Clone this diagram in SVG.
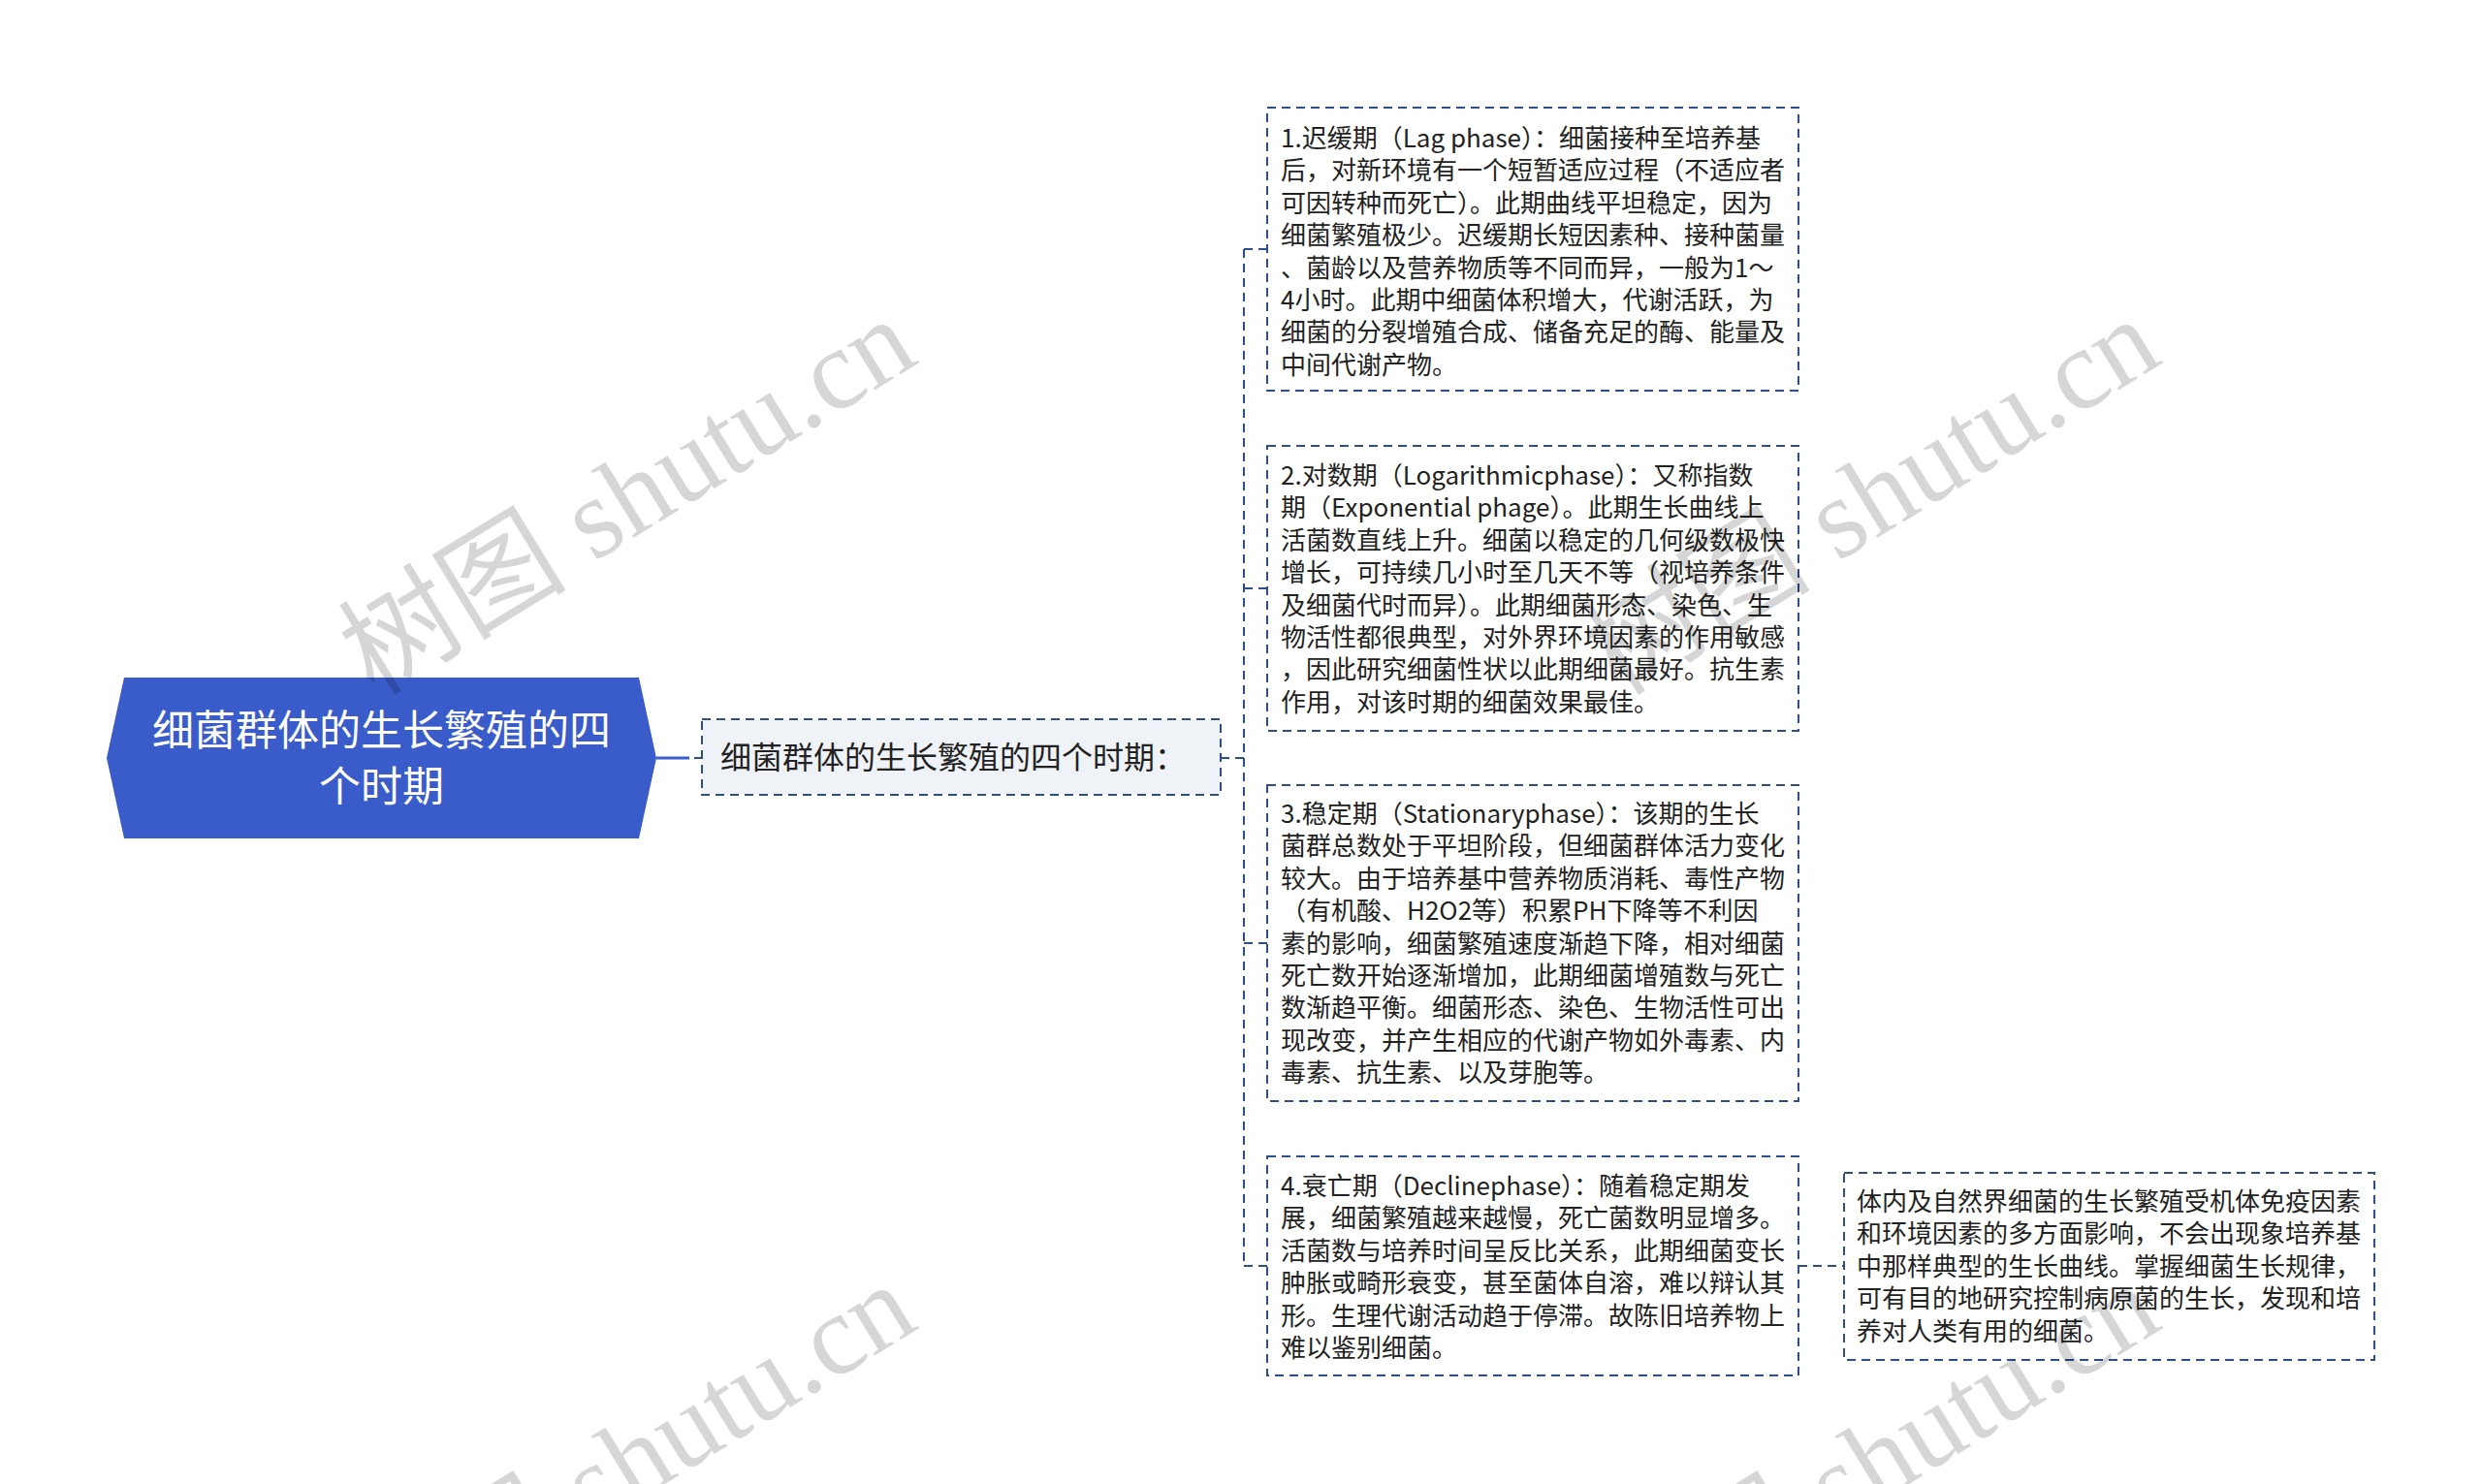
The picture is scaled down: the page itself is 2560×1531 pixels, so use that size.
<svg xmlns="http://www.w3.org/2000/svg" width="2560" height="1531" viewBox="0 0 2560 1531">
<defs>
<style>
.bg{fill:#ffffff}
.box{fill:none;stroke:#2f4c8c;stroke-width:2;stroke-dasharray:9 6}
.mid{fill:#eff2f7;stroke:#2f4c8c;stroke-width:2;stroke-dasharray:9 6}
.conn{fill:none;stroke:#2f4c8c;stroke-width:2;stroke-dasharray:9 6}
.t{font-family:"Noto Sans CJK SC","Noto Sans",sans-serif;font-size:26px;fill:#222222}
.tm{font-family:"Noto Sans CJK SC","Noto Sans",sans-serif;font-size:32px;fill:#222222}
.tr{font-family:"Noto Sans CJK SC","Noto Sans",sans-serif;font-size:43px;fill:#ffffff;text-anchor:middle}
.wm{font-family:"Liberation Serif","Noto Sans CJK SC",serif;font-size:118px;fill:#000000;fill-opacity:0.16}
</style>
</defs>
<rect class="bg" x="0" y="0" width="2560" height="1531"/>

<g id="connectors">
<path d="M677 782 H711" stroke="#3a5ccb" stroke-width="3" fill="none"/>
<path d="M716 782 H724" stroke="#2f4c8c" stroke-width="2" fill="none"/>
<path class="conn" d="M1259 782 H1283"/>
<path class="conn" d="M1283 257 V1306"/>
<path class="conn" d="M1283 257 H1307"/>
<path class="conn" d="M1283 607 H1307"/>
<path class="conn" d="M1283 973 H1307"/>
<path class="conn" d="M1283 1306 H1307"/>
<path class="conn" d="M1855 1306 H1902"/>
</g>

<g id="root">
<polygon points="128,699 659,699 677,782 659,865 128,865 110,782" fill="#3a5ccb"/>
<text class="tr" x="393.5" y="769">细菌群体的生长繁殖的四</text>
<text class="tr" x="393.5" y="827">个时期</text>
</g>

<g id="mid">
<rect class="mid" x="724" y="742" width="535" height="78"/>
<text class="tm" x="743" y="793">细菌群体的生长繁殖的四个时期：</text>
</g>

<g id="n1">
<rect class="box" x="1307" y="111" width="548" height="292"/>
<text class="t">
<tspan x="1321" y="152">1.迟缓期（Lag phase）：细菌接种至培养基</tspan>
<tspan x="1321" y="185.4">后，对新环境有一个短暂适应过程（不适应者</tspan>
<tspan x="1321" y="218.8">可因转种而死亡）。此期曲线平坦稳定，因为</tspan>
<tspan x="1321" y="252.1">细菌繁殖极少。迟缓期长短因素种、接种菌量</tspan>
<tspan x="1321" y="285.5">、菌龄以及营养物质等不同而异，一般为1～</tspan>
<tspan x="1321" y="318.9">4小时。此期中细菌体积增大，代谢活跃，为</tspan>
<tspan x="1321" y="352.3">细菌的分裂增殖合成、储备充足的酶、能量及</tspan>
<tspan x="1321" y="385.6">中间代谢产物。</tspan>
</text>
</g>

<g id="n2">
<rect class="box" x="1307" y="460" width="548" height="294"/>
<text class="t">
<tspan x="1321" y="500">2.对数期（Logarithmicphase）：又称指数</tspan>
<tspan x="1321" y="533.4">期（Exponential phage）。此期生长曲线上</tspan>
<tspan x="1321" y="566.8">活菌数直线上升。细菌以稳定的几何级数极快</tspan>
<tspan x="1321" y="600.1">增长，可持续几小时至几天不等（视培养条件</tspan>
<tspan x="1321" y="633.5">及细菌代时而异）。此期细菌形态、染色、生</tspan>
<tspan x="1321" y="666.9">物活性都很典型，对外界环境因素的作用敏感</tspan>
<tspan x="1321" y="700.3">，因此研究细菌性状以此期细菌最好。抗生素</tspan>
<tspan x="1321" y="733.6">作用，对该时期的细菌效果最佳。</tspan>
</text>
</g>

<g id="n3">
<rect class="box" x="1307" y="810" width="548" height="326"/>
<text class="t">
<tspan x="1321" y="849">3.稳定期（Stationaryphase）：该期的生长</tspan>
<tspan x="1321" y="882.4">菌群总数处于平坦阶段，但细菌群体活力变化</tspan>
<tspan x="1321" y="915.8">较大。由于培养基中营养物质消耗、毒性产物</tspan>
<tspan x="1321" y="949.1">（有机酸、H2O2等）积累PH下降等不利因</tspan>
<tspan x="1321" y="982.5">素的影响，细菌繁殖速度渐趋下降，相对细菌</tspan>
<tspan x="1321" y="1015.9">死亡数开始逐渐增加，此期细菌增殖数与死亡</tspan>
<tspan x="1321" y="1049.3">数渐趋平衡。细菌形态、染色、生物活性可出</tspan>
<tspan x="1321" y="1082.6">现改变，并产生相应的代谢产物如外毒素、内</tspan>
<tspan x="1321" y="1116">毒素、抗生素、以及芽胞等。</tspan>
</text>
</g>

<g id="n4">
<rect class="box" x="1307" y="1193" width="548" height="226"/>
<text class="t">
<tspan x="1321" y="1233">4.衰亡期（Declinephase）：随着稳定期发</tspan>
<tspan x="1321" y="1266.4">展，细菌繁殖越来越慢，死亡菌数明显增多。</tspan>
<tspan x="1321" y="1299.8">活菌数与培养时间呈反比关系，此期细菌变长</tspan>
<tspan x="1321" y="1333.1">肿胀或畸形衰变，甚至菌体自溶，难以辩认其</tspan>
<tspan x="1321" y="1366.5">形。生理代谢活动趋于停滞。故陈旧培养物上</tspan>
<tspan x="1321" y="1399.9">难以鉴别细菌。</tspan>
</text>
</g>

<g id="n5">
<rect class="box" x="1902" y="1210" width="547" height="193"/>
<text class="t">
<tspan x="1915" y="1249">体内及自然界细菌的生长繁殖受机体免疫因素</tspan>
<tspan x="1915" y="1282.4">和环境因素的多方面影响，不会出现象培养基</tspan>
<tspan x="1915" y="1315.8">中那样典型的生长曲线。掌握细菌生长规律，</tspan>
<tspan x="1915" y="1349.1">可有目的地研究控制病原菌的生长，发现和培</tspan>
<tspan x="1915" y="1382.5">养对人类有用的细菌。</tspan>
</text>
</g>

<g id="watermarks">
<text class="wm" text-anchor="middle" transform="translate(647 512) rotate(-31.5)" y="40">树图 shutu.cn</text>
<text class="wm" text-anchor="middle" transform="translate(1930 512) rotate(-31.5)" y="40">树图 shutu.cn</text>
<text class="wm" text-anchor="middle" transform="translate(647 1508) rotate(-31.5)" y="40">树图 shutu.cn</text>
<text class="wm" text-anchor="middle" transform="translate(1930 1508) rotate(-31.5)" y="40">树图 shutu.cn</text>
</g>
</svg>
